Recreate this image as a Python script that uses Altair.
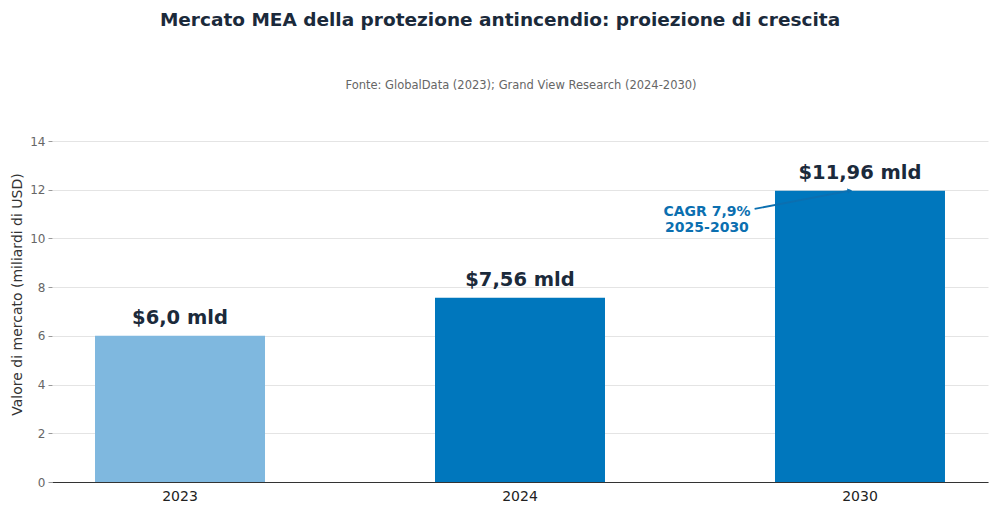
import altair as alt
import pandas as pd

years = ["2023", "2024", "2030"]
values = [6.0, 7.56, 11.96]
labels = ["$6,0 mld", "$7,56 mld", "$11,96 mld"]
bar_colors = ["#7FB8DF", "#0077BD", "#0077BD"]

# annotation (positions in a 0..2 category-index scale)
ann_text = ["CAGR 7,9%", "2025-2030"]
ann_x = [1.55]
ann_y = [11.09]
arrow_x = [1.69, 1.97]
arrow_y = [11.21, 11.96]

title_text = "Mercato MEA della protezione antincendio: proiezione di crescita"
subtitle_text = "Fonte: GlobalData (2023); Grand View Research (2024-2030)"

FONT = "DejaVu Sans"
W, H = 936, 341

df = pd.DataFrame({"year": years, "value": values, "label": labels, "color": bar_colors})

xband = alt.X("year:N", sort=years,
              scale=alt.Scale(paddingInner=0.5, paddingOuter=0.1265),
              axis=alt.Axis(title=None, labelAngle=0, labelFontSize=14, labelColor="#222",
                            labelFont=FONT, ticks=False, domain=True, domainColor="#333",
                            domainWidth=1, labelPadding=7, grid=False))
yq = alt.Y("value:Q", scale=alt.Scale(domain=[0, 14]),
           axis=alt.Axis(title="Valore di mercato (miliardi di USD)", titleFontSize=14,
                         titleColor="#333", titleFont=FONT, titleFontWeight="normal",
                         titlePadding=5, titleY=153, values=[0, 2, 4, 6, 8, 10, 12, 14],
                         labelFontSize=12, labelColor="#666", labelFont=FONT,
                         tickSize=4, tickColor="#999", labelPadding=3, domain=False,
                         grid=True, gridColor="#e4e4e4", gridWidth=1))

bars = alt.Chart(df).mark_bar().encode(
    x=xband, y=yq,
    color=alt.Color("color:N", scale=None),
)

bar_labels = alt.Chart(df).mark_text(
    font=FONT, fontSize=19.5, fontWeight="bold", color="#1b2a3b",
    baseline="alphabetic", dy=-12
).encode(x=alt.X("year:N", sort=years), y=yq, text="label:N")

qscale = alt.Scale(domain=[-0.3765, 2.3765])

ann_df = pd.DataFrame({"x": ann_x, "value": ann_y, "t": [ann_text]})
ann = alt.Chart(ann_df).mark_text(
    font=FONT, fontSize=14, fontWeight="bold", color="#0B6FB0",
    align="center", baseline="middle", lineHeight=16
).encode(x=alt.X("x:Q", scale=qscale, axis=None), y=yq, text="t")

arrow_df = pd.DataFrame({"x": arrow_x, "value": arrow_y, "o": [0, 1]})
arrow = alt.Chart(arrow_df).mark_line(color="#0B6FB0", strokeWidth=1.8).encode(
    x=alt.X("x:Q", scale=qscale, axis=None), y=yq, order="o:Q",
)
head_df = pd.DataFrame({"x": arrow_x[1:], "value": arrow_y[1:]})
head = alt.Chart(head_df).mark_point(shape="triangle-up", filled=True, size=28,
                                     angle=79, color="#0B6FB0", opacity=1).encode(
    x=alt.X("x:Q", scale=qscale, axis=None), y=yq,
)

sub_df = pd.DataFrame({"t": [subtitle_text]})
sub = alt.Chart(sub_df).mark_text(font=FONT, fontSize=11.5, color="#666",
                                  align="center", baseline="middle").encode(
    x=alt.value(469), y=alt.value(-55), text="t:N")

band_layer = alt.layer(bars, bar_labels)
q_layer = alt.layer(arrow, head, ann)

chart = alt.layer(band_layer, q_layer, sub).resolve_scale(x="independent", y="shared").properties(
    width=W, height=H,
    background="white",
    title=alt.TitleParams(title_text, font=FONT, fontSize=18.5, fontWeight="bold",
                          color="#1b2a3b", anchor="middle", dx=-20, offset=51),
    autosize=alt.AutoSizeParams(type="none"),
    padding={"left": 44, "top": 133, "right": 4, "bottom": 27},
).configure_view(stroke=None)

chart.save("out.html", embed_options={"renderer": "svg", "actions": False})
